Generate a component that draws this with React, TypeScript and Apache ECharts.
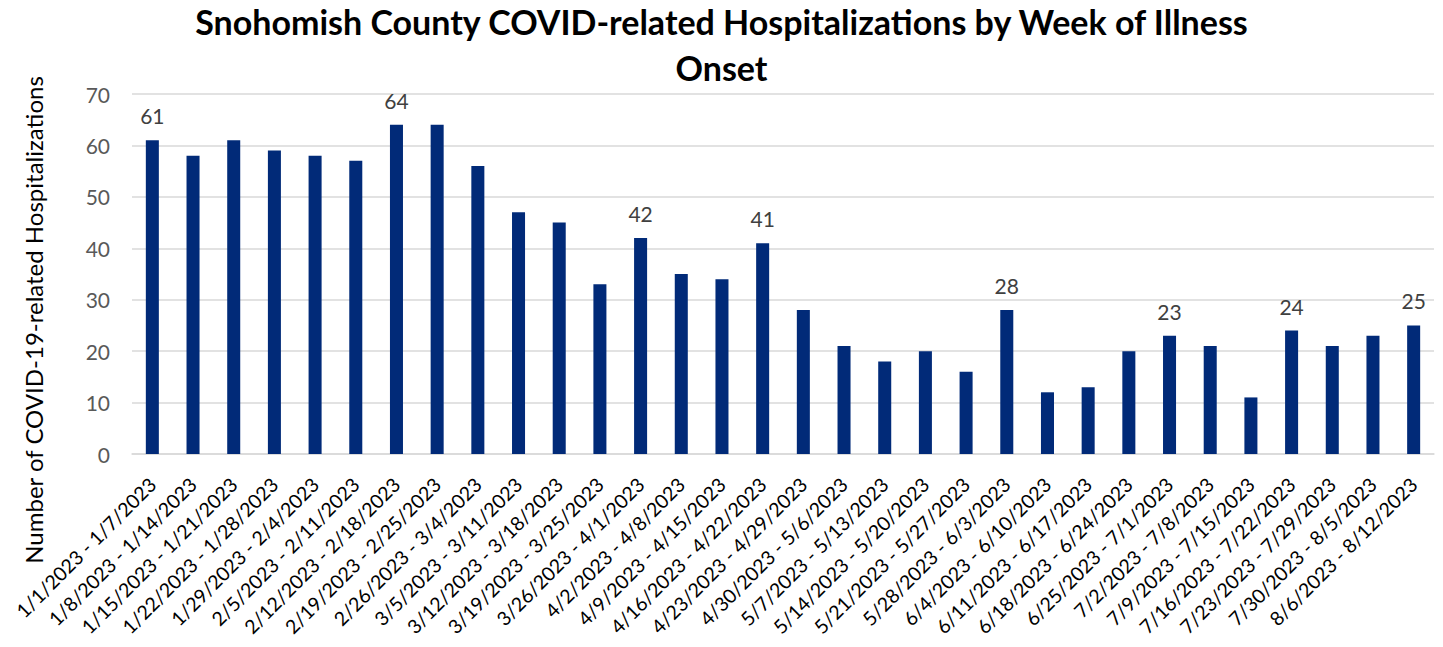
import React, { useEffect, useRef } from "react";
import * as echarts from "echarts";

const weeks: string[] = [
  "1/1/2023 - 1/7/2023", "1/8/2023 - 1/14/2023", "1/15/2023 - 1/21/2023", "1/22/2023 - 1/28/2023",
  "1/29/2023 - 2/4/2023", "2/5/2023 - 2/11/2023", "2/12/2023 - 2/18/2023", "2/19/2023 - 2/25/2023",
  "2/26/2023 - 3/4/2023", "3/5/2023 - 3/11/2023", "3/12/2023 - 3/18/2023", "3/19/2023 - 3/25/2023",
  "3/26/2023 - 4/1/2023", "4/2/2023 - 4/8/2023", "4/9/2023 - 4/15/2023", "4/16/2023 - 4/22/2023",
  "4/23/2023 - 4/29/2023", "4/30/2023 - 5/6/2023", "5/7/2023 - 5/13/2023", "5/14/2023 - 5/20/2023",
  "5/21/2023 - 5/27/2023", "5/28/2023 - 6/3/2023", "6/4/2023 - 6/10/2023", "6/11/2023 - 6/17/2023",
  "6/18/2023 - 6/24/2023", "6/25/2023 - 7/1/2023", "7/2/2023 - 7/8/2023", "7/9/2023 - 7/15/2023",
  "7/16/2023 - 7/22/2023", "7/23/2023 - 7/29/2023", "7/30/2023 - 8/5/2023", "8/6/2023 - 8/12/2023",
];

const hospitalizations: number[] = [
  61, 58, 61, 59, 58, 57, 64, 64, 56, 47, 45, 33, 42, 35, 34, 41,
  28, 21, 18, 20, 16, 28, 12, 13, 20, 23, 21, 11, 24, 21, 23, 25,
];

// indices of bars that carry a data label in the original
const labeledWeeks: number[] = [0, 6, 12, 15, 21, 25, 28, 31];

const titleText = "Snohomish County COVID-related Hospitalizations by Week of Illness\nOnset";
const yAxisTitle = "Number of COVID-19-related Hospitalizations";

const FONT = "Lato";

export default function App() {
  const ref = useRef<HTMLDivElement>(null);
  useEffect(() => {
    if (!ref.current) return;
    const chart = echarts.init(ref.current, null, { renderer: "svg" });
    chart.setOption({
      animation: false,
      backgroundColor: "#ffffff",
      textStyle: { fontFamily: FONT },
      title: {
        text: titleText,
        left: "center",
        top: -7,
        textStyle: {
          fontFamily: FONT,
          fontSize: 34,
          fontWeight: "bold",
          color: "#000000",
          lineHeight: 46,
        },
      },
      grid: { left: 132, right: 9, top: 94, bottom: 193, containLabel: false },
      xAxis: {
        type: "category",
        data: weeks,
        axisTick: { show: false },
        axisLine: { lineStyle: { color: "#d9d9d9", width: 1.5 } },
        axisLabel: {
          interval: 0,
          rotate: 45,
          fontFamily: FONT,
          fontSize: 19.5,
          color: "#000000",
          margin: 27,
        },
      },
      yAxis: {
        type: "value",
        min: 0,
        max: 70,
        interval: 10,
        axisLine: { show: false },
        axisTick: { show: false },
        splitLine: { lineStyle: { color: "#d9d9d9", width: 1.5 } },
        axisLabel: { fontFamily: FONT, fontSize: 21, color: "#595959", margin: 22 },
      },
      graphic: [
        {
          type: "text",
          x: 33,
          y: 320,
          rotation: Math.PI / 2,
          style: {
            text: yAxisTitle,
            fontFamily: FONT,
            fontSize: 24,
            fill: "#000000",
            textAlign: "center",
            textVerticalAlign: "middle",
          },
        },
      ],
      series: [
        {
          type: "bar",
          data: hospitalizations.map((v, i) => ({
            value: v,
            label: { show: labeledWeeks.includes(i) },
          })),
          barWidth: "32%",
          itemStyle: { color: "#012a78" },
          label: {
            position: "top",
            distance: 14,
            fontFamily: FONT,
            fontSize: 21,
            color: "#404040",
          },
        },
      ],
    });
    return () => chart.dispose();
  }, []);
  return (
    <div
      ref={ref}
      style={{ position: "absolute", left: 0, top: 0, width: 1443, height: 647 }}
    />
  );
}
